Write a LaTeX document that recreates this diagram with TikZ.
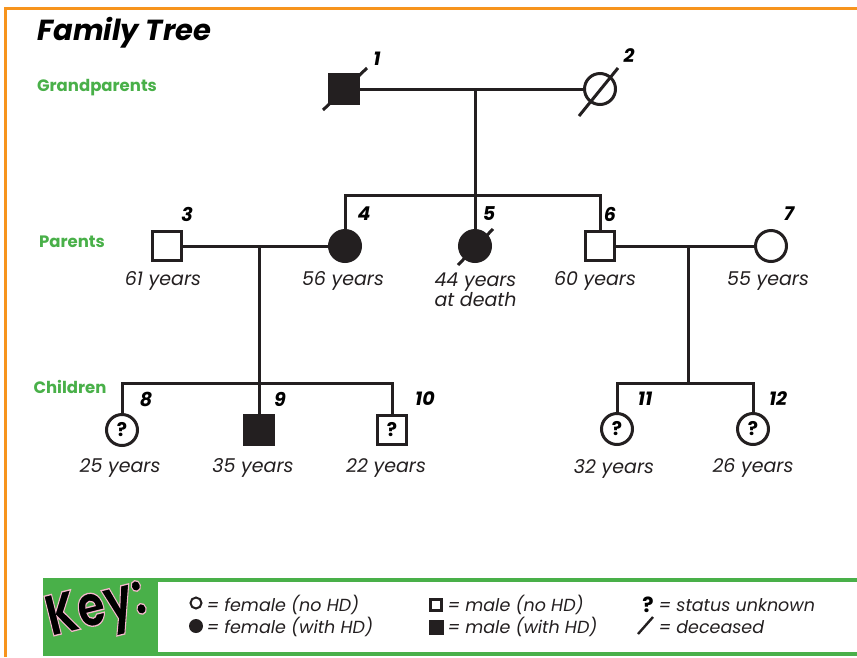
\documentclass[tikz,border=0pt]{standalone}
\usepackage{fontspec}
\setmainfont{Poppins}
\usetikzlibrary{positioning}
\definecolor{treeorange}{HTML}{F7941D}
\definecolor{treegreen}{HTML}{49B049}
\definecolor{ink}{HTML}{231F20}
\newcommand{\pinkoutline}[1]{\special{pdf:literal direct 2 Tr 1.3 w 0.96 0.72 0.8 RG}#1\special{pdf:literal direct 0 Tr}}

\begin{document}
\begin{tikzpicture}[x=1pt,y=-1pt,
    line width=3pt, draw=ink,
    male/.style={draw=ink, rectangle, minimum size=29.5pt, inner sep=0pt, line width=3pt},
    female/.style={draw=ink, circle, minimum size=31pt, inner sep=0pt, line width=3pt},
    sick/.style={fill=ink},
    unknown/.style={font=\fontsize{19}{19}\selectfont\bfseries},
    num/.style={font=\fontsize{19}{19}\selectfont\bfseries\itshape, inner sep=0pt},
    age/.style={font=\fontsize{19}{20}\selectfont\itshape, inner sep=0pt, text=ink},
    gen/.style={font=\fontsize{16.5}{16.5}\selectfont\bfseries, text=treegreen, inner sep=0pt},
    keytext/.style={font=\fontsize{17.5}{17.5}\selectfont\itshape, inner sep=0pt, anchor=base west, text=ink},
    keyword/.style={font=\fontsize{58}{58}\selectfont\bfseries, rotate=14, xscale=0.78, inner sep=0pt}]
    \useasboundingbox (0,0) rectangle (857,657);
    \fill[white] (0,0) rectangle (857,657);
    \draw[treeorange, line width=3pt] (5,657) -- (5,8.5) -- (857,8.5);
    \node[font=\fontsize{29}{29}\selectfont\bfseries\itshape, anchor=west, inner sep=0pt] (title) at (36,33) {Family Tree};
    \node[gen] (g1) at (97,88) {Grandparents};
    \node[gen] (g2) at (72,242) {Parents};
    \node[gen] (g3) at (70,387) {Children};
    \node[male, sick] (p1) at (344,89) {};
    \node[female] (p2) at (600,89) {};
    \node[male] (p3) at (167,246) {};
    \node[female, sick] (p4) at (345,246) {};
    \node[female, sick] (p5) at (475,246) {};
    \node[male] (p6) at (600,246) {};
    \node[female] (p7) at (771,246) {};
    \node[female, unknown] (p8) at (122,430) {?};
    \node[male, sick] (p9) at (259,430) {};
    \node[male, unknown] (p10) at (392,430) {?};
    \node[female, unknown] (p11) at (617,429) {?};
    \node[female, unknown] (p12) at (753,429) {?};
    \draw ([shift={(-21,21)}]p1.center) -- ([shift={(23,-21)}]p1.center);
    \draw ([shift={(-21,27)}]p2.center) -- ([shift={(18,-21)}]p2.center);
    \draw ([shift={(-17,19)}]p5.center) -- ([shift={(18,-17)}]p5.center);
    \coordinate (c12) at (475,89);
    \coordinate (s12) at (475,195);
    \coordinate (c34) at (259,246);
    \coordinate (s34) at (259,383);
    \coordinate (c67) at (688,246);
    \coordinate (s67) at (688,383);
    \draw (p1) -- (p2);
    \draw (c12) -- (s12);
    \draw (p4) |- (s12) -| (p6);
    \draw (s12) -- (p5);
    \draw (p3) -- (p4);
    \draw (c34) -- (s34);
    \draw (p8) |- (s34) -| (p10);
    \draw (s34) -- (p9);
    \draw (p6) -- (p7);
    \draw (c67) -- (s67);
    \draw (p11) |- (s67) -| (p12);
    \node[num] (n1) at (377,59) {1};
    \node[num] (n2) at (629,56) {2};
    \node[num] (n3) at (187,214) {3};
    \node[num] (n4) at (364,214) {4};
    \node[num] (n5) at (489,214) {5};
    \node[num] (n6) at (610,214) {6};
    \node[num] (n7) at (789,214) {7};
    \node[num] (n8) at (146,399) {8};
    \node[num] (n9) at (280,399) {9};
    \node[num] (n10) at (425,399) {10};
    \node[num] (n11) at (645,399) {11};
    \node[num] (n12) at (778,399) {12};
    \node[age] (a3) at (163,281) {61 years};
    \node[age] (a4) at (343,281) {56 years};
    \node[age, align=left, anchor=north west] (a5) at (433,271) {44 years\\at death};
    \node[age] (a6) at (595,281) {60 years};
    \node[age] (a7) at (768,281) {55 years};
    \node[age] (a8) at (120,468) {25 years};
    \node[age] (a9) at (253,468) {35 years};
    \node[age] (a10) at (386,468) {22 years};
    \node[age] (a11) at (614,469) {32 years};
    \node[age] (a12) at (753,468) {26 years};
    \fill[treegreen] (43,578) rectangle (857,656);
    \fill[white] (158,582) rectangle (857,652);
    \node[keyword, text=black] (key) at (97,612) {\pinkoutline{Key:}};
    \node[draw=ink, circle, line width=2pt, minimum size=11pt, inner sep=0pt] (k1) at (196,603) {};
    \node[fill=ink, circle, minimum size=14pt, inner sep=0pt] (k2) at (196,626) {};
    \node[draw=ink, rectangle, line width=2.2pt, minimum size=11pt, inner sep=0pt] (k3) at (436,605) {};
    \node[fill=ink, rectangle, minimum size=15pt, inner sep=0pt] (k4) at (436,627) {};
    \node[font=\fontsize{21}{21}\selectfont\bfseries, inner sep=0pt] (k5) at (648,605) {?};
    \coordinate (d1) at (638,634);
    \coordinate (d2) at (653,617);
    \draw[line width=2.4pt] (d1) -- (d2);
    \node[keytext] (t1) at (205,611) {= female (no HD)};
    \node[keytext] (t2) at (205,633) {= female (with HD)};
    \node[keytext] (t3) at (446,611) {= male (no HD)};
    \node[keytext] (t4) at (446,633) {= male (with HD)};
    \node[keytext] (t5) at (657,611) {= status unknown};
    \node[keytext] (t6) at (657,633) {= deceased};
\end{tikzpicture}
\end{document}
